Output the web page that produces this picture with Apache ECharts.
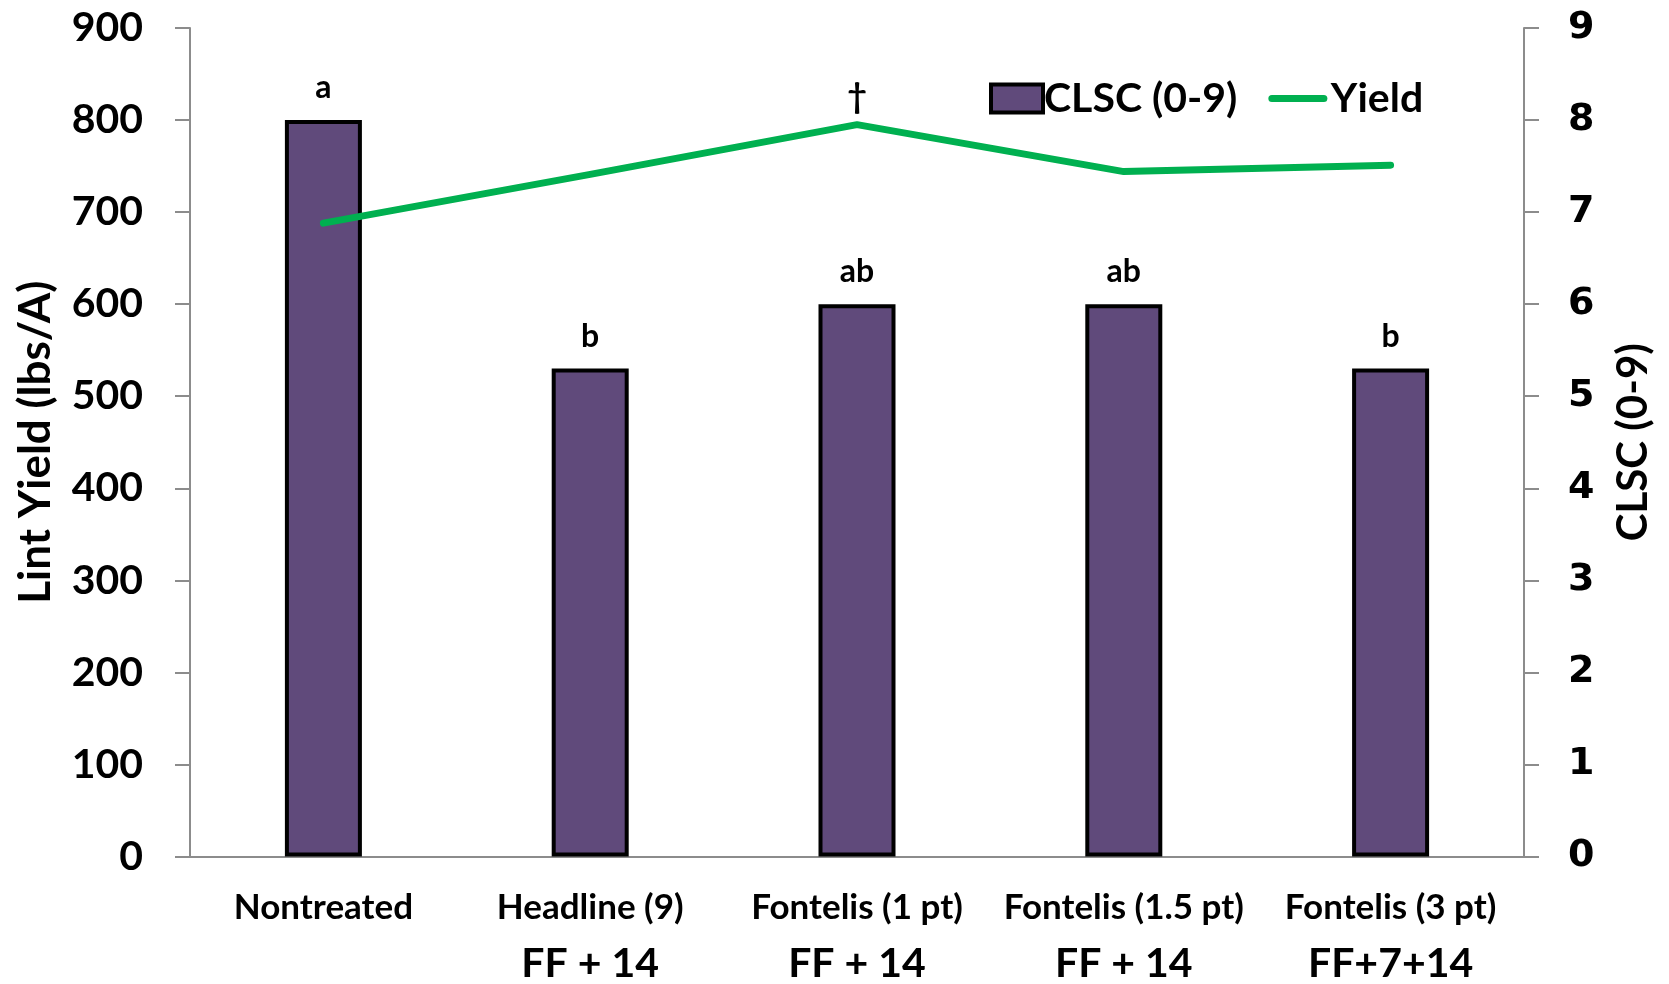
<!DOCTYPE html>
<html><head><meta charset="utf-8">
<script src="https://cdn.jsdelivr.net/npm/echarts@6/dist/echarts.min.js"></script>
<style>html,body{margin:0;padding:0;background:#fff}#c{width:1669px;height:984px}</style>
</head><body><div id="c"></div>
<script>
const categories = ['Nontreated', 'Headline (9)', 'Fontelis (1 pt)', 'Fontelis (1.5 pt)', 'Fontelis (3 pt)'];
const timings = ['', 'FF + 14', 'FF + 14', 'FF + 14', 'FF+7+14'];
const clsc = [8.0, 5.3, 6.0, 6.0, 5.3];
const clscLetters = ['a', 'b', 'ab', 'ab', 'b'];
const yieldVals = [688, 741, 795, 744, 751];
const yieldMarks = ['', '', '†', '', ''];

const F = 'Lato';
const axisGray = '#8c8c8c';
const chart = echarts.init(document.getElementById('c'));
chart.setOption({
  animation: false,
  backgroundColor: '#fff',
  grid: { left: 190, right: 145, top: 28, bottom: 122, containLabel: false },
  legend: {
    left: 984, top: 73,
    itemWidth: 52, itemHeight: 28, itemGap: 31,
    textStyle: { fontFamily: F, fontWeight: 'bold', fontSize: 41, color: '#000', padding: [0, 0, 0, -4] },
    data: [
      { name: 'CLSC (0-9)', icon: 'rect', itemStyle: { color: '#604A7B', borderColor: '#000', borderWidth: 4 } },
      { name: 'Yield', itemStyle: { opacity: 0 }, lineStyle: { color: '#00B050', width: 7, cap: 'round' },
        textStyle: { padding: [0, 0, 0, 2] } }
    ]
  },
  xAxis: {
    type: 'category', data: categories,
    axisLine: { lineStyle: { color: axisGray, width: 2 } },
    axisTick: { inside: true, length: 11, lineStyle: { color: axisGray, width: 2 } },
    axisLabel: {
      margin: 30, interval: 0,
      formatter: (v, i) => '{a|' + v + '}\n{b|' + (timings[i] || ' ') + '}',
      rich: {
        a: { fontFamily: F, fontWeight: 'bold', fontSize: 35, color: '#000', lineHeight: 42 },
        b: { fontFamily: F, fontWeight: 'bold', fontSize: 41, color: '#000', lineHeight: 70 }
      }
    }
  },
  yAxis: [
    {
      type: 'value', min: 0, max: 900, interval: 100, position: 'left',
      name: 'Lint Yield (lbs/A)', nameLocation: 'middle', nameGap: 132, nameRotate: 90,
      nameTextStyle: { fontFamily: F, fontWeight: 'bold', fontSize: 44, color: '#000' },
      axisLine: { show: true, lineStyle: { color: axisGray, width: 2 } },
      axisTick: { show: true, length: 15, lineStyle: { color: axisGray, width: 2 } },
      axisLabel: { margin: 47, fontFamily: F, fontWeight: 'bold', fontSize: 41, color: '#000' },
      splitLine: { show: false }
    },
    {
      type: 'value', min: 0, max: 9, interval: 1, position: 'right',
      name: 'CLSC (0-9)', nameLocation: 'middle', nameGap: 88, nameRotate: 90,
      nameTextStyle: { fontFamily: F, fontWeight: 'bold', fontSize: 42, color: '#000' },
      axisLine: { show: true, lineStyle: { color: axisGray, width: 2 } },
      axisTick: { show: true, length: 15, lineStyle: { color: axisGray, width: 2 } },
      axisLabel: { margin: 44, fontFamily: 'DejaVu Sans', fontWeight: 'bold', fontSize: 38, color: '#000' },
      splitLine: { show: false }
    }
  ],
  series: [
    {
      name: 'CLSC (0-9)', type: 'bar', yAxisIndex: 1, barWidth: 77,
      data: clsc,
      itemStyle: { color: '#604A7B', borderColor: '#000', borderWidth: 4 },
      label: {
        show: true, position: 'top', distance: 16,
        formatter: p => clscLetters[p.dataIndex],
        fontFamily: F, fontWeight: 'bold', fontSize: 32, color: '#000'
      }
    },
    {
      name: 'Yield', type: 'line', yAxisIndex: 0, symbol: 'circle', symbolSize: 1, showSymbol: true,
      data: yieldVals,
      lineStyle: { color: '#00B050', width: 7, cap: 'round', join: 'round' },
      itemStyle: { color: '#00B050' },
      label: {
        show: true, position: 'top', distance: 10,
        formatter: p => yieldMarks[p.dataIndex],
        fontFamily: F, fontWeight: 'bold', fontSize: 34, color: '#000'
      }
    }
  ]
});
</script></body></html>
